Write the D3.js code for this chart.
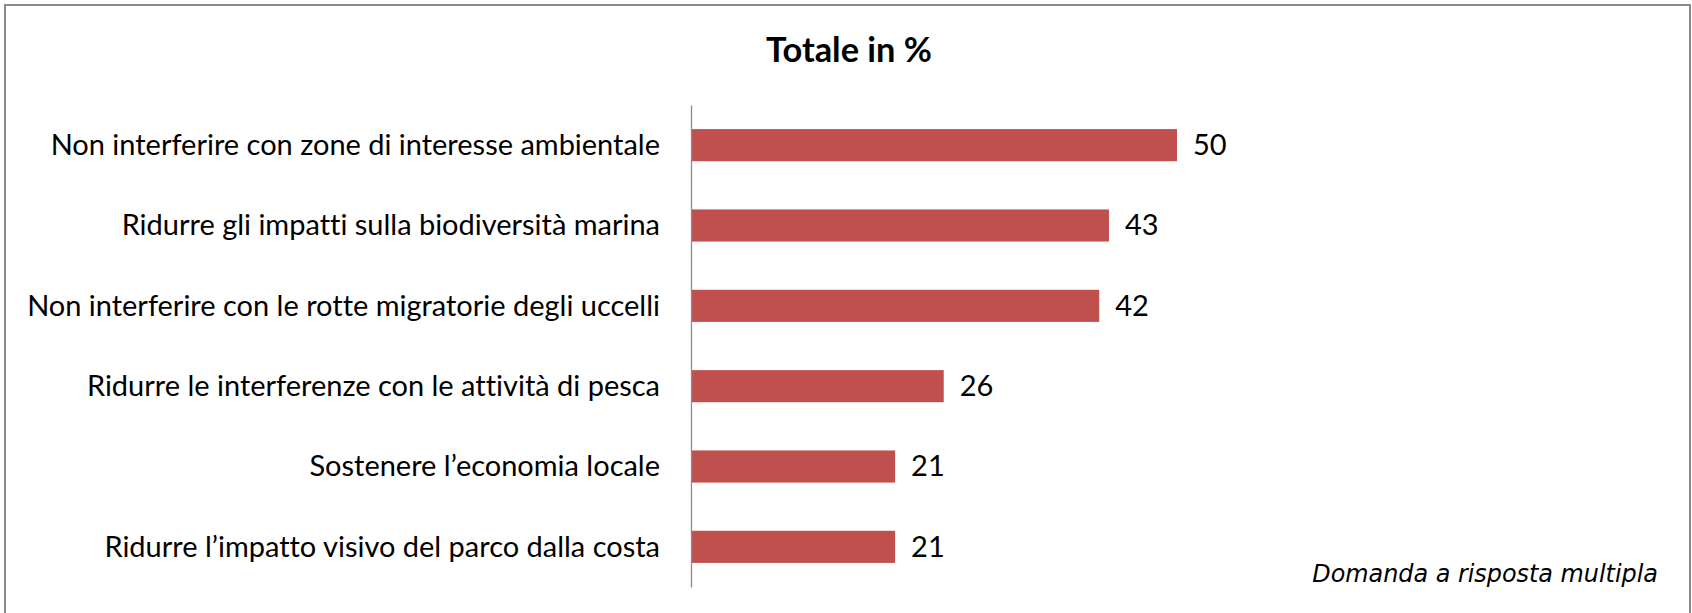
<!DOCTYPE html>
<html>
<head>
<meta charset="utf-8">
<script src="https://cdn.jsdelivr.net/npm/d3@7"></script>
<style>
  html, body { margin: 0; padding: 0; background: #fff; }
  svg { display: block; }
  text { font-variant-ligatures: none; font-feature-settings: "liga" 0, "clig" 0, "dlig" 0; }
</style>
</head>
<body>
<svg id="chart" width="1692" height="613"></svg>
<script>
// ---- data ----
const categories = [
  "Non interferire con zone di interesse ambientale",
  "Ridurre gli impatti sulla biodiversità marina",
  "Non interferire con le rotte migratorie degli uccelli",
  "Ridurre le interferenze con le attività di pesca",
  "Sostenere l\u2019economia locale",
  "Ridurre l\u2019impatto visivo del parco dalla costa"
];
const values = [50, 43, 42, 26, 21, 21];
const titleText = "Totale in %";
const noteText = "Domanda a risposta multipla";

// ---- layout ----
const W = 1692, H = 613;
const svg = d3.select("#chart");

svg.append("rect")
  .attr("x", 5).attr("y", 5)
  .attr("width", 1685).attr("height", 700)
  .attr("fill", "#fff")
  .attr("stroke", "#8a8a8a")
  .attr("stroke-width", 2);

const x = d3.scaleLinear().domain([0, 50]).range([691, 1177]);
const y = d3.scaleBand().domain(categories).range([105, 587])
  .paddingInner(0.6).paddingOuter(0.3);

function fitFont(sel, targetWidth, baseSize) {
  sel.attr("font-size", baseSize);
  let maxW = 0;
  sel.each(function() { maxW = Math.max(maxW, this.getComputedTextLength()); });
  const s = baseSize * targetWidth / maxW;
  sel.attr("font-size", s);
  return s;
}

// bars
svg.append("g").selectAll("rect")
  .data(values)
  .join("rect")
  .attr("x", x(0))
  .attr("y", (d, i) => y(categories[i]))
  .attr("width", d => x(d) - x(0))
  .attr("height", y.bandwidth())
  .attr("fill", "#C0504D");

// axis
const axis = svg.append("g")
  .attr("transform", `translate(${x(0)},0)`)
  .call(d3.axisLeft(y).tickSize(0).tickSizeOuter(0).tickPadding(31));
axis.select(".domain").attr("stroke", "#8c8c8c").attr("stroke-width", 1.3);
const catLabels = axis.selectAll(".tick text")
  .attr("font-family", "Lato, 'Open Sans', sans-serif")
  .attr("fill", "#000")
  .attr("dy", "0.34em");
const labelSize = fitFont(catLabels, 633, 30);

// value labels
const vals = svg.append("g").selectAll("text")
  .data(values)
  .join("text")
  .attr("x", d => x(d) + 16)
  .attr("y", (d, i) => y(categories[i]) + y.bandwidth() / 2)
  .attr("dy", "0.34em")
  .attr("font-family", "Lato, 'Open Sans', sans-serif")
  .attr("font-size", labelSize)
  .attr("fill", "#000")
  .text(d => d);

// title
const title = svg.append("text")
  .attr("x", 849).attr("y", 62)
  .attr("text-anchor", "middle")
  .attr("font-family", "Lato, 'Open Sans', sans-serif")
  .attr("font-weight", "bold")
  .attr("fill", "#000")
  .text(titleText);
fitFont(title, 166, 34);

// footnote
const note = svg.append("text")
  .attr("x", 1658).attr("y", 581.5)
  .attr("text-anchor", "end")
  .attr("font-family", "'DejaVu Sans', Verdana, sans-serif")
  .attr("font-style", "italic")
  .attr("fill", "#000")
  .text(noteText);
fitFont(note, 346, 21);
</script>
</body>
</html>
